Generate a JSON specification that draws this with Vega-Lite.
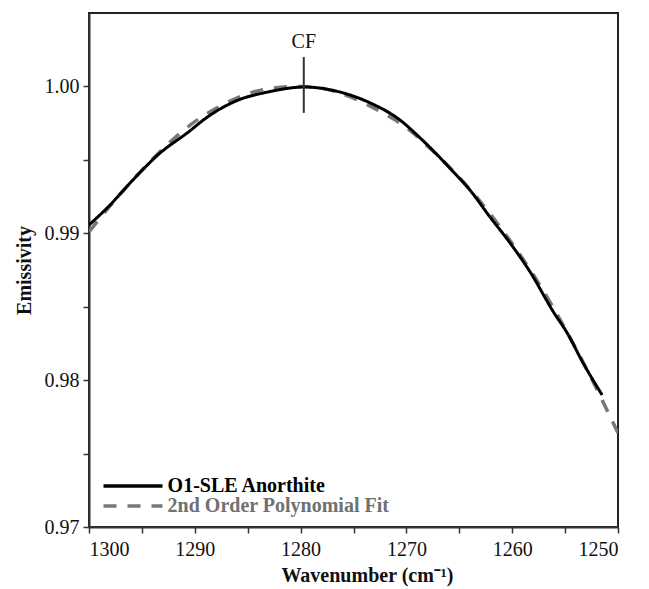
{
  "$schema": "https://vega.github.io/schema/vega-lite/v6.json",
  "autosize": {"type": "none"},
  "padding": {"left": 89, "top": 13, "right": 31, "bottom": 62},
  "width": 529,
  "height": 514,
  "background": "white",
  "config": {
    "view": {"stroke": "#222", "strokeWidth": 2},
    "font": "Liberation Serif",
    "axis": {
      "grid": false,
      "domainColor": "#333",
      "domainWidth": 2,
      "tickColor": "#333",
      "tickWidth": 1.5,
      "tickSize": 6,
      "labelFont": "Liberation Serif",
      "labelFontSize": 20,
      "labelColor": "#111",
      "titleFont": "Liberation Serif",
      "titleFontSize": 20,
      "titleFontWeight": "bold",
      "titleColor": "#111"
    },
    "legend": {"labelFont": "Liberation Serif"}
  },
  "datasets": {
    "curves": [
      {"wn": 1300.0, "e": 0.9901, "series": "2nd Order Polynomial Fit"},
      {"wn": 1297.5, "e": 0.9923, "series": "2nd Order Polynomial Fit"},
      {"wn": 1295.0, "e": 0.9943, "series": "2nd Order Polynomial Fit"},
      {"wn": 1292.5, "e": 0.9961, "series": "2nd Order Polynomial Fit"},
      {"wn": 1290.0, "e": 0.9976, "series": "2nd Order Polynomial Fit"},
      {"wn": 1287.5, "e": 0.9987, "series": "2nd Order Polynomial Fit"},
      {"wn": 1285.0, "e": 0.9995, "series": "2nd Order Polynomial Fit"},
      {"wn": 1282.5, "e": 0.9999, "series": "2nd Order Polynomial Fit"},
      {"wn": 1280.0, "e": 1.0000, "series": "2nd Order Polynomial Fit"},
      {"wn": 1277.5, "e": 0.9998, "series": "2nd Order Polynomial Fit"},
      {"wn": 1275.0, "e": 0.9992, "series": "2nd Order Polynomial Fit"},
      {"wn": 1272.5, "e": 0.9983, "series": "2nd Order Polynomial Fit"},
      {"wn": 1270.0, "e": 0.9972, "series": "2nd Order Polynomial Fit"},
      {"wn": 1267.5, "e": 0.9956, "series": "2nd Order Polynomial Fit"},
      {"wn": 1265.0, "e": 0.9938, "series": "2nd Order Polynomial Fit"},
      {"wn": 1262.5, "e": 0.9917, "series": "2nd Order Polynomial Fit"},
      {"wn": 1260.0, "e": 0.9893, "series": "2nd Order Polynomial Fit"},
      {"wn": 1257.5, "e": 0.9866, "series": "2nd Order Polynomial Fit"},
      {"wn": 1255.0, "e": 0.9835, "series": "2nd Order Polynomial Fit"},
      {"wn": 1252.5, "e": 0.9801, "series": "2nd Order Polynomial Fit"},
      {"wn": 1250.0, "e": 0.9764, "series": "2nd Order Polynomial Fit"},
      {"wn": 1300.0, "e": 0.99056, "series": "O1-SLE Anorthite"},
      {"wn": 1298.2, "e": 0.99179, "series": "O1-SLE Anorthite"},
      {"wn": 1295.4, "e": 0.99397, "series": "O1-SLE Anorthite"},
      {"wn": 1293.5, "e": 0.99533, "series": "O1-SLE Anorthite"},
      {"wn": 1290.6, "e": 0.9969, "series": "O1-SLE Anorthite"},
      {"wn": 1288.8, "e": 0.99792, "series": "O1-SLE Anorthite"},
      {"wn": 1285.9, "e": 0.99907, "series": "O1-SLE Anorthite"},
      {"wn": 1283.1, "e": 0.99962, "series": "O1-SLE Anorthite"},
      {"wn": 1279.6, "e": 0.99996, "series": "O1-SLE Anorthite"},
      {"wn": 1276.3, "e": 0.99962, "series": "O1-SLE Anorthite"},
      {"wn": 1273.4, "e": 0.99887, "series": "O1-SLE Anorthite"},
      {"wn": 1270.6, "e": 0.99771, "series": "O1-SLE Anorthite"},
      {"wn": 1268.7, "e": 0.99649, "series": "O1-SLE Anorthite"},
      {"wn": 1266.8, "e": 0.99513, "series": "O1-SLE Anorthite"},
      {"wn": 1265.9, "e": 0.99444, "series": "O1-SLE Anorthite"},
      {"wn": 1264.0, "e": 0.99295, "series": "O1-SLE Anorthite"},
      {"wn": 1262.1, "e": 0.99111, "series": "O1-SLE Anorthite"},
      {"wn": 1260.2, "e": 0.98934, "series": "O1-SLE Anorthite"},
      {"wn": 1258.3, "e": 0.98736, "series": "O1-SLE Anorthite"},
      {"wn": 1256.1, "e": 0.98464, "series": "O1-SLE Anorthite"},
      {"wn": 1254.8, "e": 0.98321, "series": "O1-SLE Anorthite"},
      {"wn": 1253.3, "e": 0.98117, "series": "O1-SLE Anorthite"},
      {"wn": 1251.5, "e": 0.97899, "series": "O1-SLE Anorthite"}
    ],
    "cf": [
      {"wn": 1279.7, "lo": 0.9982, "hi": 1.002, "ty": 1.0026, "label": "CF"}
    ]
  },
  "layer": [
    {
      "data": {"name": "curves"},
      "transform": [{"filter": "datum.series === '2nd Order Polynomial Fit'"}],
      "mark": {"type": "line", "strokeWidth": 3.5, "clip": true, "interpolate": "monotone"},
      "encoding": {
        "x": {
          "field": "wn", "type": "quantitative",
          "scale": {"domain": [1250, 1300], "reverse": true, "nice": false, "zero": false},
          "axis": {
            "title": "Wavenumber (cm⁻¹)",
            "titleFont": "Liberation Serif",
            "labelFont": "Liberation Serif",
            "titleX": 278,
            "titleAlign": "center",
            "values": [1250, 1255, 1260, 1265, 1270, 1275, 1280, 1285, 1290, 1295, 1300],
            "labelExpr": "datum.value % 10 === 0 ? format(datum.value, 'd') : ''",
            "labelPadding": 6,
            "titlePadding": 6
          }
        },
        "y": {
          "field": "e", "type": "quantitative",
          "scale": {"domain": [0.97, 1.005], "nice": false, "zero": false},
          "axis": {
            "title": "Emissivity",
            "titleFont": "Liberation Serif",
            "labelFont": "Liberation Serif",
            "values": [0.97, 0.975, 0.98, 0.985, 0.99, 0.995, 1.0],
            "labelExpr": "abs(datum.value * 100 - round(datum.value * 100)) < 0.001 ? format(datum.value, '.2f') : ''",
            "labelPadding": 4,
            "titlePadding": 10
          }
        },
        "color": {
          "field": "series", "type": "nominal",
          "scale": {"domain": ["O1-SLE Anorthite", "2nd Order Polynomial Fit"], "range": ["#000000", "#777777"]},
          "legend": {
            "orient": "none", "legendX": 34, "legendY": 463, "title": null,
            "symbolType": "M-6,0H6", "symbolSize": 96.7, "symbolStrokeWidth": 3.5,
            "labelFont": "Liberation Serif", "labelFontSize": 20, "labelFontWeight": "bold",
            "labelLimit": 400,
            "labelOffset": 24.6, "rowPadding": 0, "padding": 0,
            "encode": {"labels": {"update": {"fill": {"signal": "datum.value === 'O1-SLE Anorthite' ? '#000000' : '#707070'"}}}}
          }
        },
        "strokeDash": {
          "field": "series", "type": "nominal",
          "scale": {"domain": ["O1-SLE Anorthite", "2nd Order Polynomial Fit"], "range": [[1, 0], [13, 11]]},
          "legend": null
        }
      }
    },
    {
      "data": {"name": "curves"},
      "transform": [{"filter": "datum.series === 'O1-SLE Anorthite'"}],
      "mark": {"type": "line", "strokeWidth": 3, "clip": true, "interpolate": "monotone"},
      "encoding": {
        "x": {"field": "wn", "type": "quantitative"},
        "y": {"field": "e", "type": "quantitative"},
        "color": {"field": "series", "type": "nominal"},
        "strokeDash": {"field": "series", "type": "nominal"}
      }
    },
    {
      "data": {"name": "cf"},
      "mark": {"type": "rule", "color": "#333", "strokeWidth": 2},
      "encoding": {
        "x": {"field": "wn", "type": "quantitative"},
        "y": {"field": "lo", "type": "quantitative"},
        "y2": {"field": "hi"}
      }
    },
    {
      "data": {"name": "cf"},
      "mark": {"type": "text", "font": "Liberation Serif", "fontSize": 20, "baseline": "alphabetic", "align": "center", "color": "#111"},
      "encoding": {
        "x": {"field": "wn", "type": "quantitative"},
        "y": {"field": "ty", "type": "quantitative"},
        "text": {"field": "label"}
      }
    }
  ]
}
